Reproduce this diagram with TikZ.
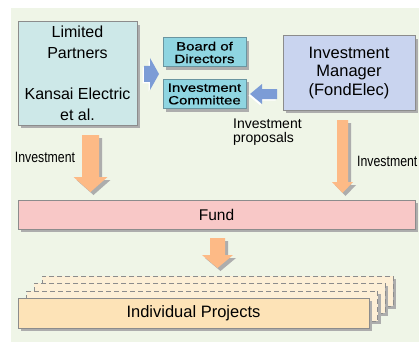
\documentclass[tikz,border=0pt]{standalone}
\usepackage{fontspec}
\setmainfont{Liberation Sans}
\newfontfamily\widesans[FakeStretch=1.25,FakeBold=0.6]{Liberation Sans}
\newfontfamily\narrowsans[FakeStretch=0.82]{Liberation Sans}
\usetikzlibrary{shadows}
\definecolor{bg}{HTML}{EFF5E7}
\definecolor{lpfill}{HTML}{CDE8E8}
\definecolor{bdfill}{HTML}{8FD5E1}
\definecolor{bdborder}{HTML}{6A95A0}
\definecolor{imfill}{HTML}{C9D4EF}
\definecolor{bluearrow}{HTML}{7C9CD6}
\definecolor{orangearrow}{HTML}{FDBA86}
\definecolor{fundfill}{HTML}{F8C8C7}
\definecolor{projfront}{HTML}{FDE3B7}
\definecolor{projback}{HTML}{FDEFD6}
\definecolor{bordergray}{HTML}{8C8C8C}
\definecolor{shadowgray}{HTML}{ADADAD}
\tikzset{
  shadowed/.style={drop shadow={shadow xshift=3pt,shadow yshift=-3pt,fill=shadowgray,opacity=1}},
  box/.style={draw=bordergray, line width=1pt, rectangle, inner sep=0pt, align=center, shadowed},
  smallbox/.style={box, fill=bdfill, draw=bdborder, minimum width=83pt, minimum height=29pt,
    font=\widesans\fontsize{12}{12.6}\selectfont},
  projbackbox/.style={rectangle, draw=bordergray, line width=1pt, dash pattern=on 5pt off 3pt,
    fill=projback, minimum width=351pt, minimum height=30pt, inner sep=0pt, shadowed},
  orangeblock/.style={fill=orangearrow, shadowed},
  label/.style={inner sep=0pt}
}
\begin{document}
\begin{tikzpicture}[x=1pt,y=-1pt]
\useasboundingbox (0,0) rectangle (419,342);
\fill[white] (0,0) rectangle (419,342);
\fill[bg] (11,8) rectangle (419,342);

% boxes
\node[box, fill=lpfill, minimum width=119pt, minimum height=103pt,
  font=\fontsize{16}{20.7}\selectfont] (lp) at (77.5,73.5)
  {Limited\\Partners\\[20.7pt]Kansai Electric\\et al.};
\node[smallbox] (board) at (204.5,52.5) {Board of\\Directors};
\node[smallbox] (committee) at (204.5,94) {Investment\\Committee};
\node[box, fill=imfill, minimum width=132pt, minimum height=74pt,
  font=\fontsize{16.5}{18.5}\selectfont] (im) at (349,73)
  {Investment\\Manager\\(FondElec)};
\node[box, fill=fundfill, minimum width=397pt, minimum height=29pt,
  font=\fontsize{15.5}{18}\selectfont] (fund) at (216.5,214.5) {Fund};

% stacked projects
\node[projbackbox] (p3) at (217.5,291) {};
\node[projbackbox] (p2) at (209.5,298) {};
\node[projbackbox] (p1) at (202,306) {};
\node[box, fill=projfront, minimum width=351pt, minimum height=30pt,
  font=\fontsize{16.5}{18}\selectfont] (proj) at (193.5,313) {Individual Projects};

% orange block arrows
\fill[orangeblock] (82,135) -- (99,135) -- (99,177) -- (107.5,177) -- (90.5,192)
  -- (73.5,177) -- (82,177) -- cycle;
\fill[orangeblock] (337,120) -- (348,120) -- (348,182) -- (353,182) -- (342.5,193)
  -- (332,182) -- (337,182) -- cycle;
\fill[orangeblock] (210,238) -- (225,238) -- (225,255) -- (233,255) -- (217.5,268)
  -- (202,255) -- (210,255) -- cycle;

% blue block arrows
\fill[white] (142.5,67.5) -- (148.5,67.5) -- (148.5,59.5) -- (157.5,75.5) -- (148.5,91.5)
  -- (148.5,83.5) -- (142.5,83.5) -- cycle;
\fill[bluearrow] (144,66) -- (150,66) -- (150,58) -- (159,74) -- (150,90)
  -- (150,82) -- (144,82) -- cycle;
\fill[white] (248.5,95.5) -- (260.5,85.5) -- (260.5,90.5) -- (275.5,90.5) -- (275.5,100.5)
  -- (260.5,100.5) -- (260.5,105.5) -- cycle;
\fill[bluearrow] (250,94) -- (262,84) -- (262,89) -- (277,89) -- (277,99)
  -- (262,99) -- (262,104) -- cycle;

% labels
\node[label, anchor=base, font=\narrowsans\fontsize{15}{18}\selectfont] (invL) at (45,162.7) {Investment};
\node[label, anchor=base west, font=\narrowsans\fontsize{15}{18}\selectfont] (invR) at (357,166) {Investment};
\node[label, anchor=north west, align=left, font=\fontsize{14}{14}\selectfont] (prop) at (233,119)
  {Investment\\proposals};
\end{tikzpicture}
\end{document}
